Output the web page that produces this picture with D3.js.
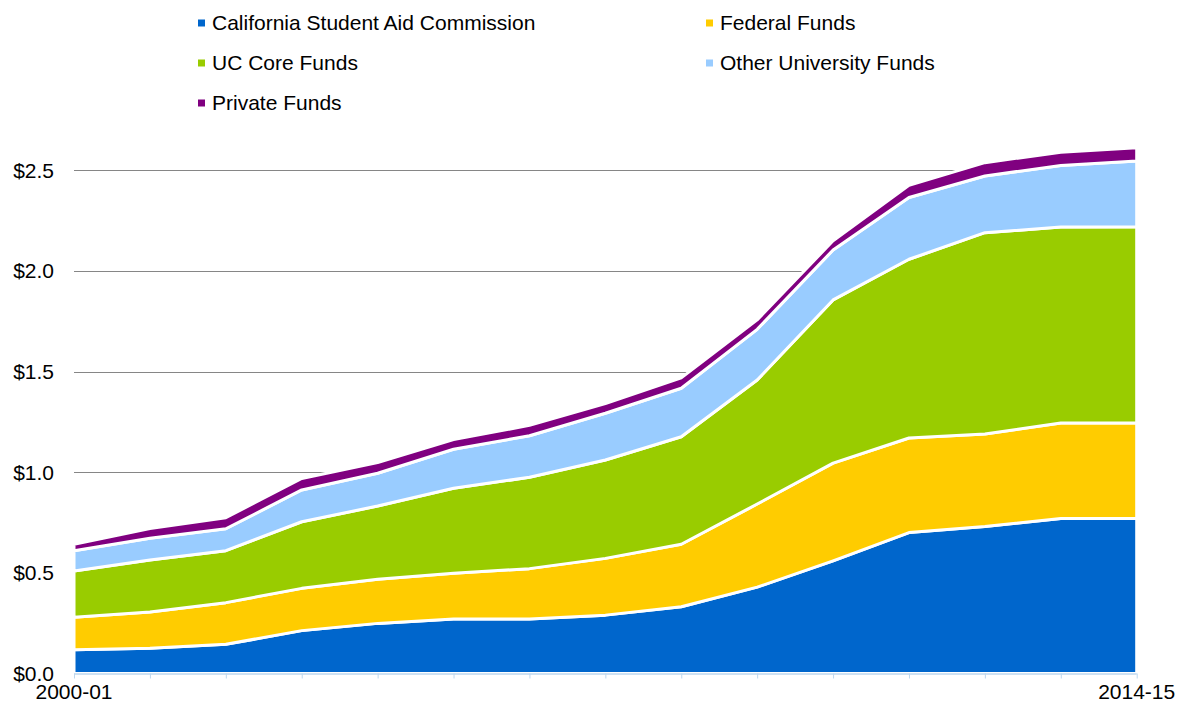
<!DOCTYPE html>
<html>
<head>
<meta charset="utf-8">
<script src="https://cdn.jsdelivr.net/npm/d3@7"></script>
<style>
  body { margin: 0; background: #fff; }
  text { font-family: "Liberation Sans", Arial, sans-serif; fill: #000; }
</style>
</head>
<body>
<div id="chart"></div>
<script>
// Data (billions of dollars)
const years = ["2000-01", "2001-02", "2002-03", "2003-04", "2004-05", "2005-06", "2006-07",
  "2007-08", "2008-09", "2009-10", "2010-11", "2011-12", "2012-13", "2013-14", "2014-15"];
const csacFunds = [0.118, 0.125, 0.145, 0.213, 0.249, 0.271, 0.271, 0.290, 0.332, 0.429, 0.560, 0.700, 0.730, 0.770, 0.770];
const federalFunds = [0.161, 0.181, 0.207, 0.210, 0.219, 0.227, 0.250, 0.282, 0.310, 0.413, 0.485, 0.470, 0.460, 0.474, 0.474];
const ucCoreFunds = [0.230, 0.258, 0.258, 0.331, 0.364, 0.422, 0.454, 0.489, 0.534, 0.616, 0.811, 0.888, 1.000, 0.974, 0.976];
const otherUnivFunds = [0.101, 0.108, 0.109, 0.158, 0.163, 0.194, 0.206, 0.232, 0.241, 0.252, 0.248, 0.307, 0.282, 0.306, 0.326];
const privateFunds = [0.032, 0.048, 0.055, 0.057, 0.053, 0.048, 0.052, 0.048, 0.052, 0.047, 0.046, 0.060, 0.066, 0.066, 0.066];
const seriesNames = ["California Student Aid Commission", "Federal Funds", "UC Core Funds",
  "Other University Funds", "Private Funds"];
const seriesColors = ["#0066CC", "#FFCC00", "#99CC00", "#99CCFF", "#800080"];
const yTicks = [0, 0.5, 1.0, 1.5, 2.0, 2.5];
const xLabels = ["2000-01", "2014-15"];

// Plot constants
const W = 1180, H = 703;
const PLOT = { LEFT: 74, RIGHT: 1136.7, TOP: 170.3, BOTTOM: 673.5 };

const svg = d3.select("#chart").append("svg")
  .attr("width", W)
  .attr("height", H);

const x = d3.scalePoint()
  .domain(years)
  .range([PLOT.LEFT, PLOT.RIGHT]);

const y = d3.scaleLinear()
  .domain([0, 2.5])
  .range([PLOT.BOTTOM, PLOT.TOP]);

// Table for the stack
const keys = ["csac", "federal", "ucCore", "other", "private"];
const table = years.map((yr, i) => ({
  year: yr,
  csac: csacFunds[i],
  federal: federalFunds[i],
  ucCore: ucCoreFunds[i],
  other: otherUnivFunds[i],
  private: privateFunds[i]
}));
const stacked = d3.stack().keys(keys)(table);

// Gridlines (behind areas)
svg.append("g")
  .selectAll("line")
  .data(yTicks.filter(d => d > 0))
  .join("line")
  .attr("x1", PLOT.LEFT)
  .attr("x2", PLOT.RIGHT)
  .attr("y1", d => Math.round(y(d)) + 0.5)
  .attr("y2", d => Math.round(y(d)) + 0.5)
  .attr("stroke", "#868686")
  .attr("stroke-width", 1);

// Areas
const area = d3.area()
  .x(d => x(d.data.year))
  .y0(d => y(d[0]))
  .y1(d => y(d[1]));

svg.append("g")
  .selectAll("path")
  .data(stacked)
  .join("path")
  .attr("d", area)
  .attr("fill", (d, i) => seriesColors[i])
  .attr("stroke", "#fff")
  .attr("stroke-width", 3)
  .attr("stroke-linejoin", "round");

// X axis
const xAxis = d3.axisBottom(x)
  .tickSize(5)
  .tickFormat("");
const xAxisGroup = svg.append("g")
  .attr("transform", "translate(0," + PLOT.BOTTOM + ")")
  .call(xAxis);
xAxisGroup.select(".domain")
  .attr("d", "M" + PLOT.LEFT + ",0.5H" + PLOT.RIGHT)
  .attr("stroke", "#9DC3E6");
xAxisGroup.selectAll(".tick line").attr("stroke", "#BDD7EE");

svg.append("g")
  .selectAll("text")
  .data(xLabels)
  .join("text")
  .attr("x", d => x(d))
  .attr("y", 699)
  .attr("text-anchor", "middle")
  .style("font-size", "21px")
  .text(d => d);

// Y labels
svg.append("g")
  .selectAll("text")
  .data(yTicks)
  .join("text")
  .attr("x", 54)
  .attr("y", d => y(d))
  .attr("dy", "0.35em")
  .attr("text-anchor", "end")
  .style("font-size", "21px")
  .text(d => "$" + d.toFixed(1));

// Legend
const legendPos = [[198, 23], [706, 23], [198, 63], [706, 63], [198, 103]];
const legend = svg.append("g")
  .selectAll("g")
  .data(seriesNames)
  .join("g")
  .attr("transform", (d, i) => "translate(" + legendPos[i][0] + "," + legendPos[i][1] + ")");

legend.append("rect")
  .attr("x", 0)
  .attr("y", -3.5)
  .attr("width", 7)
  .attr("height", 7)
  .attr("fill", (d, i) => seriesColors[i]);

legend.append("text")
  .attr("x", 14)
  .attr("y", 0)
  .attr("dy", "0.35em")
  .style("font-size", "21px")
  .text(d => d);
</script>
</body>
</html>
